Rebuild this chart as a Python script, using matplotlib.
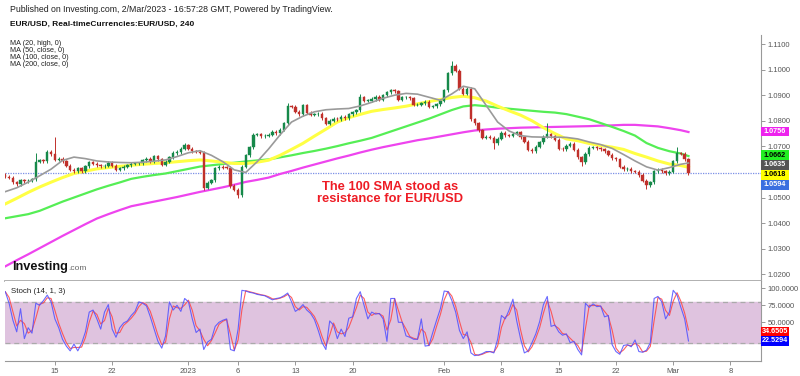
import numpy as np
import pandas as pd
import matplotlib
matplotlib.use("Agg")
import matplotlib.pyplot as plt
import matplotlib.transforms as mtransforms
from matplotlib.patches import Rectangle

plt.rcParams['font.family'] = ['Liberation Sans', 'DejaVu Sans']

# 8h candles, x in trading days (0 = Mon 12 Dec 2022)
closes = [
    1.0581, 1.0577, 1.0560, 1.0552, 1.0568, 1.0563, 1.0566, 1.0572, 1.0640, 1.0645,
    1.0642, 1.0679, 1.0670, 1.0648, 1.0652, 1.0641, 1.0625, 1.0608, 1.0602, 1.0614,
    1.0602, 1.0622, 1.0638, 1.0632, 1.0627, 1.0623, 1.0625, 1.0636, 1.0625, 1.0609,
    1.0614, 1.0620, 1.0627, 1.0632, 1.0634, 1.0634, 1.0645, 1.0651, 1.0641, 1.0662,
    1.0650, 1.0628, 1.0640, 1.0658, 1.0674, 1.0678, 1.0690, 1.0704, 1.0691, 1.0681,
    1.0679, 1.0675, 1.0538, 1.0558, 1.0567, 1.0614, 1.0620, 1.0617, 1.0616, 1.0545,
    1.0530, 1.0510, 1.0620, 1.0665, 1.0697, 1.0746, 1.0747, 1.0740, 1.0741, 1.0745,
    1.0756, 1.0752, 1.0765, 1.0790, 1.0856, 1.0855, 1.0835, 1.0825, 1.0860, 1.0832,
    1.0824, 1.0826, 1.0828, 1.0810, 1.0788, 1.0800, 1.0808, 1.0805, 1.0815, 1.0810,
    1.0825, 1.0833, 1.0841, 1.0892, 1.0878, 1.0879, 1.0885, 1.0893, 1.0883, 1.0900,
    1.0912, 1.0919, 1.0915, 1.0883, 1.0892, 1.0892, 1.0888, 1.0862, 1.0862, 1.0868,
    1.0875, 1.0854, 1.0856, 1.0865, 1.0878, 1.0920, 1.0986, 1.1015, 1.0995, 1.0925,
    1.0905, 1.0925, 1.0806, 1.0790, 1.0762, 1.0734, 1.0737, 1.0734, 1.0712, 1.0729,
    1.0754, 1.0744, 1.0741, 1.0750, 1.0755, 1.0735, 1.0718, 1.0686, 1.0680, 1.0698,
    1.0716, 1.0738, 1.0747, 1.0740, 1.0726, 1.0690, 1.0689, 1.0702, 1.0711, 1.0686,
    1.0657, 1.0637, 1.0670, 1.0695, 1.0697, 1.0692, 1.0688, 1.0680, 1.0668, 1.0654,
    1.0650, 1.0620, 1.0610, 1.0613, 1.0603, 1.0601, 1.0588, 1.0565, 1.0549, 1.0560,
    1.0602, 1.0608, 1.0603, 1.0594, 1.0600, 1.0642, 1.0673, 1.0672, 1.0650, 1.0594,
]
first_open = 1.0590
spike_idx = [8, 13, 47, 52, 61, 74, 93, 117, 128, 142, 151, 168, 176]
spike_val = [1.0674, 1.0738, 1.0712, 1.0529, 1.0497, 1.0870, 1.0905, 1.1034,
             1.0690, 1.0792, 1.0625, 1.0535, 1.0696]

# moving averages, read once per trading day
ma20 = [1.0523, 1.0538, 1.0560, 1.0585, 1.0611, 1.0645, 1.0658, 1.0652, 1.0643, 1.0639,
        1.0637, 1.0636, 1.0638, 1.0642, 1.0647, 1.0660, 1.0675, 1.0683, 1.0665, 1.0640,
        1.0608, 1.0598, 1.0640, 1.0690, 1.0745, 1.0795, 1.0818, 1.0835, 1.0843, 1.0846,
        1.0848, 1.0858, 1.0872, 1.0888, 1.0900, 1.0907, 1.0904, 1.0892, 1.0880, 1.0905,
        1.0935, 1.0925, 1.0860, 1.0795, 1.0760, 1.0742, 1.0737, 1.0736, 1.0736, 1.0735,
        1.0729, 1.0717, 1.0707, 1.0692, 1.0668, 1.0643, 1.0620, 1.0607, 1.0617, 1.0630,
        1.0635]
ma50 = [1.0475, 1.0497, 1.0520, 1.0541, 1.0560, 1.0578, 1.0594, 1.0603, 1.0612, 1.0617,
        1.0622, 1.0626, 1.0630, 1.0633, 1.0636, 1.0640, 1.0644, 1.0647, 1.0643, 1.0638,
        1.0633, 1.0633, 1.0638, 1.0646, 1.0665, 1.0688, 1.0712, 1.0740, 1.0767, 1.0795,
        1.0812, 1.0825, 1.0837, 1.0844, 1.0850, 1.0857, 1.0866, 1.0875, 1.0883, 1.0891,
        1.0896, 1.0890, 1.0877, 1.0857, 1.0839, 1.0822, 1.0800, 1.0773, 1.0750, 1.0729,
        1.0722, 1.0711, 1.0703, 1.0697, 1.0688, 1.0672, 1.0658, 1.0643, 1.0631, 1.0625,
        1.0618]
ma100 = [1.0419, 1.0427, 1.0435, 1.0448, 1.0466, 1.0484, 1.0500, 1.0516, 1.0532, 1.0546,
         1.0559, 1.0573, 1.0581, 1.0588, 1.0594, 1.0603, 1.0612, 1.0621, 1.0626, 1.0631,
         1.0636, 1.0641, 1.0645, 1.0649, 1.0657, 1.0665, 1.0674, 1.0682, 1.0691, 1.0701,
         1.0712, 1.0722, 1.0733, 1.0748, 1.0763, 1.0778, 1.0793, 1.0808, 1.0825, 1.0842,
         1.0856, 1.0861, 1.0857, 1.0851, 1.0847, 1.0843, 1.0839, 1.0835, 1.0832, 1.0826,
         1.0816, 1.0806, 1.0791, 1.0776, 1.0760, 1.0742, 1.0713, 1.0694, 1.0681, 1.0672,
         1.0662]
ma200 = [1.0231, 1.0255, 1.0278, 1.0302, 1.0326, 1.0350, 1.0373, 1.0396, 1.0418, 1.0435,
         1.0451, 1.0466, 1.0475, 1.0484, 1.0493, 1.0502, 1.0512, 1.0522, 1.0531, 1.0540,
         1.0550, 1.0561, 1.0569, 1.0578, 1.0592, 1.0604, 1.0617, 1.0629, 1.0641, 1.0653,
         1.0664, 1.0676, 1.0687, 1.0697, 1.0706, 1.0715, 1.0724, 1.0731, 1.0739, 1.0747,
         1.0755, 1.0762, 1.0766, 1.0769, 1.0771, 1.0773, 1.0774, 1.0775, 1.0776, 1.0777,
         1.0778, 1.0779, 1.0781, 1.0782, 1.0784, 1.0784, 1.0781, 1.0778, 1.0771, 1.0763,
         1.0756]

stoch_k = [95, 78, 53, 36, 70, 26, 42, 34, 78, 75, 82, 90, 80, 55, 42, 25, 15, 8, 18, 8,
           19, 36, 65, 68, 55, 40, 65, 76, 40, 28, 42, 49, 52, 60, 66, 80, 78, 74, 58, 40,
           22, 12, 30, 80, 68, 75, 66, 85, 80, 55, 35, 40, 10, 21, 25, 44, 50, 53, 55, 10,
           8, 40, 97, 96, 94, 93, 91, 90, 89, 86, 83, 85, 86, 89, 93, 80, 66, 70, 76, 68,
           63, 54, 38, 20, 10, 52, 46, 26, 40, 29, 56, 58, 85, 95, 75, 55, 65, 62, 63, 55,
           22, 85, 85, 50, 50, 30, 28, 25, 25, 55, 15, 16, 35, 53, 70, 96, 95, 82, 65, 38,
           26, 36, 5, 1, 2, 4, 7, 7, 5, 25, 60, 55, 68, 84, 52, 26, 5, 8, 20, 33,
           51, 76, 88, 44, 46, 36, 31, 33, 20, 22, 10, 2, 78, 72, 77, 73, 74, 58, 60, 17,
           7, 3, 16, 17, 14, 24, 7, 6, 9, 20, 85, 88, 80, 55, 65, 97, 90, 72, 55, 22.5294]
stoch_d_last = 34.6505

tick_days = [3, 8, 14.6, 19, 24, 29, 37, 42, 47, 52, 57, 62]
tick_labels = ['15', '22', '2023', '6', '13', '20', 'Feb', '8', '15', '22', 'Mar', '8']
price_ticks = [1.02, 1.03, 1.04, 1.05, 1.06, 1.07, 1.08, 1.09, 1.10, 1.11]
hidden_ticks = [1.06]   # covered by the value labels

# ---------------------------------------------------------------
n = len(closes)
x = -1.33 + np.arange(n) / 3.0
closes = np.array(closes)
opens = np.r_[first_open, closes[:-1]]
highs = np.maximum(opens, closes) + 0.0006
lows = np.minimum(opens, closes) - 0.0006
for i, v in zip(spike_idx, spike_val):
    if v > closes[i]:
        highs[i] = v
    else:
        lows[i] = v
ma_x = np.r_[x[0:178:3], x[-1]]

W, H = 800, 376
fig = plt.figure(figsize=(8, 3.76), dpi=100)
ax = fig.add_axes([5 / W, 1 - 281 / H, 756 / W, 246 / H])
ax2 = fig.add_axes([5 / W, 1 - 361 / H, 756 / W, 80 / H], sharex=ax)

up = closes >= opens
col = np.where(up, '#16894a', '#c0302b')
ax.vlines(x, lows, highs, colors=col, lw=0.7, zorder=3)
body = np.maximum(np.abs(closes - opens), 0.00015)
ax.bar(x, body, bottom=np.minimum(opens, closes), width=0.21, color=col,
       edgecolor=col, lw=0.3, zorder=4)

ax.plot(ma_x, ma200, color='#ee44ee', lw=1.6, zorder=2)
ax.plot(ma_x, ma100, color='#55ee55', lw=1.6, zorder=2)
ax.plot(ma_x, ma50, color='#ffff44', lw=2.2, zorder=2)
ax.plot(ma_x, ma20, color='#9a9a9a', lw=1.2, zorder=5)
ax.axhline(closes[-1], color='#7b8fe6', ls=(0, (1, 1)), lw=0.9, zorder=1)

ax.set_xlim(-1.354, 64.67)
ax.set_ylim(1.01738, 1.11352)
ax.yaxis.tick_right()
ax.set_yticks(price_ticks,
              ['' if t in hidden_ticks else f'{t:.4f}' for t in price_ticks])
ax.tick_params(axis='y', length=3, width=0.6, color='#888888', labelsize=5.5,
               labelcolor='#555555', pad=1.5)
ax.tick_params(axis='x', bottom=False, labelbottom=False)
for s in ['top', 'left']:
    ax.spines[s].set_visible(False)
ax.spines['right'].set_color('#999999')
ax.spines['bottom'].set_color('#aaaaaa')
ax.spines['bottom'].set_linewidth(1.3)

# right-hand value labels
bt = mtransforms.blended_transform_factory(ax.transAxes, ax.transData)
px = (1.11352 - 1.01738) / 246
boxes = [(f'{ma200[-1]:.4f}', 131.5, '#ee22ee', 'white'),
         (f'{ma100[-1]:.4f}', 155.2, '#22ee22', 'black'),
         (f'{ma20[-1]:.4f}', 165, '#555555', 'white'),
         (f'{ma50[-1]:.4f}', 174.8, '#ffff00', 'black'),
         (f'{closes[-1]:.4f}', 185, '#3a6fe0', 'white')]
for txt, ypix, fc, tc in boxes:
    yv = 1.11352 - (ypix - 35) * px
    ax.add_patch(Rectangle((1.0, yv - 4.8 * px), 28 / 756, 9.6 * px, transform=bt,
                           facecolor=fc, edgecolor='none', clip_on=False, zorder=6))
    ax.text(1.0 + 14 / 756, yv, txt, transform=bt, ha='center', va='center',
            fontsize=5.2, fontweight='bold', color=tc, clip_on=False, zorder=7)

# stochastic
stoch_k = pd.Series(stoch_k, dtype=float)
stoch_d = stoch_k.rolling(2, min_periods=1).mean()
ax2.axhspan(20, 80, color='#dfc3df', zorder=0)
ax2.axhline(80, color='#aaaaaa', ls=(0, (4, 3)), lw=0.9)
ax2.axhline(20, color='#aaaaaa', ls=(0, (4, 3)), lw=0.9)
ax2.plot(x, stoch_d, color='#ff4444', lw=0.8, alpha=0.85)
ax2.plot(x, stoch_k, color='#5050ff', lw=0.8, alpha=0.85)
ax2.set_ylim(-6.9, 110.7)
ax2.yaxis.tick_right()
ax2.set_yticks([50, 75, 100])
ax2.yaxis.set_major_formatter(matplotlib.ticker.FormatStrFormatter('%.4f'))
ax2.tick_params(axis='y', length=3, width=0.6, color='#888888', labelsize=5.5,
                labelcolor='#555555', pad=1.5)
ax2.set_xticks(tick_days, tick_labels)
ax2.tick_params(axis='x', length=3, width=0.6, color='#888888', labelsize=5.5,
                labelcolor='#555555', pad=2)
for s in ['top', 'left']:
    ax2.spines[s].set_visible(False)
ax2.spines['right'].set_color('#999999')
ax2.spines['bottom'].set_color('#999999')

bt2 = mtransforms.blended_transform_factory(ax2.transAxes, ax2.transData)
spx = 117.6 / 80
for txt, yv, fc in [(f'{stoch_d_last:.4f}', 36.6, '#ff0000'),
                    (f'{stoch_k.iloc[-1]:.4f}', 22.6, '#0000ff')]:
    ax2.add_patch(Rectangle((1.0, yv - 4.7 * spx), 28 / 756, 9.4 * spx, transform=bt2,
                            facecolor=fc, edgecolor='none', clip_on=False, zorder=6))
    ax2.text(1.0 + 14 / 756, yv, txt, transform=bt2, ha='center', va='center',
             fontsize=5.2, fontweight='bold', color='white', clip_on=False, zorder=7)

ax2.text(6 / 756, 1 - (291.7 - 281) / 80, 'Stoch (14, 1, 3)', transform=ax2.transAxes,
         fontsize=5.7, color='#222222', va='center')

# header texts
def ftext(xp, yp, s, **kw):
    fig.text(xp / W, 1 - yp / H, s, va='center', **kw)

ftext(10, 9, 'Published on Investing.com, 2/Mar/2023 - 16:57:28 GMT, Powered by TradingView.',
      fontsize=6.3, color='#222222')
ftext(10, 24.5, 'EUR/USD, Real-timeCurrencies:EUR/USD, 240', fontsize=6.0,
      fontweight='bold', color='#111111')
for i, s in enumerate(['MA (20, high, 0)', 'MA (50, close, 0)',
                       'MA (100, close, 0)', 'MA (200, close, 0)']):
    ftext(10, 43.7 + i * 6.8, s, fontsize=5.2, color='#222222')

ftext(12.5, 267, 'Investing', fontsize=9.2, fontweight='bold', color='#111111')
ftext(68, 268.5, '.com', fontsize=6, color='#666666')

fig.text(390 / W, 1 - 193 / H, 'The 100 SMA stood as\nresistance for EUR/USD',
         ha='center', va='center', fontsize=9.3, fontweight='bold', color='#ee1c25',
         linespacing=1.05)

fig.savefig('out.png', dpi=100, facecolor='white')
